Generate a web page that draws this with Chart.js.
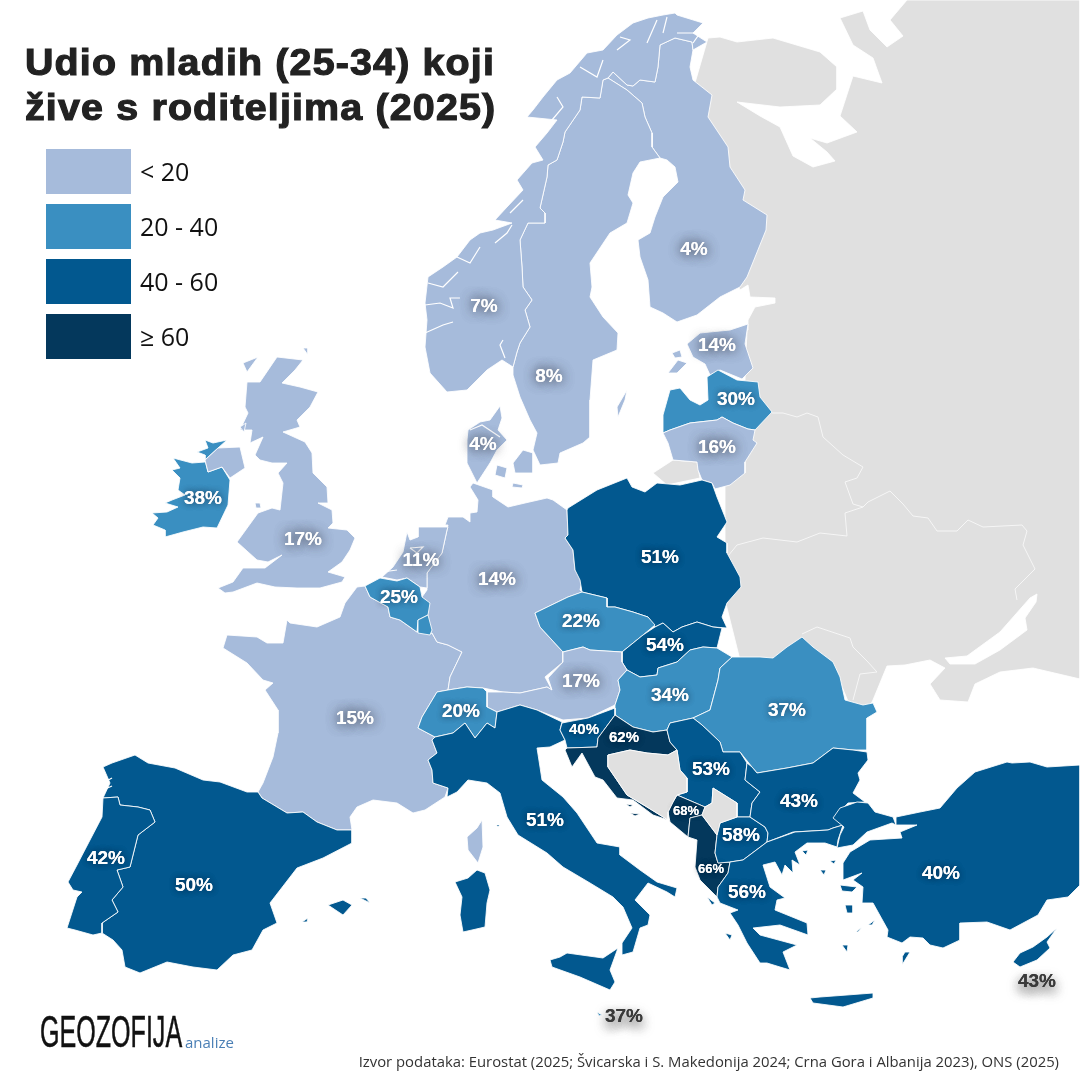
<!DOCTYPE html>
<html lang="hr">
<head>
<meta charset="utf-8">
<title>Udio mladih</title>
<script src="https://cdn.jsdelivr.net/npm/chart.js@4"></script>
<style>
  html, body { margin: 0; padding: 0; background: #fff; }
  #wrap { position: relative; width: 1080px; height: 1081px; overflow: hidden; font-family: "Liberation Sans", sans-serif; }
  canvas { position: absolute; left: 0; top: 0; }
  #title { position: absolute; left: 25px; top: 40px; font-weight: bold; font-size: 36px; line-height: 45px; color: #222; letter-spacing: 1.05px; -webkit-text-stroke: 1.1px #222; white-space: nowrap; transform-origin: left top; transform: scaleX(1.095); }
  .sw { position: absolute; left: 46px; width: 85px; height: 45px; }
  .lg { position: absolute; left: 140px; font: 25px/30px "Open Sans", sans-serif; color: #111; white-space: pre; }
  #logo { position: absolute; left: 40px; top: 1009px; font: 44px/46px "Liberation Sans", sans-serif; color: #111; transform-origin: left top; transform: scaleX(0.57); -webkit-text-stroke: 0.5px #111; white-space: nowrap; }
  #sub { position: absolute; left: 185px; top: 1033px; font: 15px/18px "Open Sans", sans-serif; color: #4a7fb5; }
  #src { position: absolute; right: 21px; top: 1051px; font: 14.85px/20px "Open Sans", sans-serif; color: #333; white-space: nowrap; }
</style>
</head>
<body>
<div id="wrap">
  <canvas id="map" width="1080" height="1081"></canvas>
  <div id="title">Udio mladih (25-34) koji<br>žive s roditeljima (2025)</div>
  <div id="legend"></div>
  <div id="logo">GEOZOFIJA</div>
  <div id="sub">analize</div>
  <div id="src">Izvor podataka: Eurostat (2025; Švicarska i S. Makedonija 2024; Crna Gora i Albanija 2023), ONS (2025)</div>
</div>
<script>
// vrijednosti s karte
const regions = ['Finska','Norveška','Švedska','Estonija','Latvija','Litva','Danska','Irska','UK','Nizozemska','Belgija','Njemačka','Poljska','Češka','Slovačka','Austrija','Mađarska','Rumunjska','Švicarska','Francuska','Slovenija','Hrvatska','Srbija','Bugarska','Italija','Crna Gora','S. Makedonija','Albanija','Grčka','Turska','Portugal','Španjolska','Malta','Cipar'];
const shares = [4,7,8,14,30,16,4,38,17,11,25,14,51,22,54,17,34,37,20,15,40,62,53,43,51,68,58,66,56,40,42,50,37,43];
const labelX = [694,484,549,717,736,717,483,203,303,421,399,497,660,581,665,581,670,787,461,355,584,624,711,799,545,686,741,711,747,941,106,194,624,1037];
const labelY = [250,307,377,346,400,448,445,499,540,561,598,580,558,622,646,682,696,711,712,719,730,738,770,802,821,811,836,869,893,874,859,886,1017,982];
const midLabels = ['Slovenija','Hrvatska'];
const smallLabels = ['Crna Gora','Albanija'];
const outsideLabels = ['Malta','Cipar'];

const classLabels = ['< 20','20 - 40','40 - 60','≥ 60'];
const classLimits = [20,40,60,Infinity];
const classColors = ['#a6bbdb','#3a8fc1','#02588f','#04385c'];
const noData = '#e0e0e0';

// obrisi, u koordinatama karte
const russia = [[708,38],[720,37],[737,42],[773,38],[820,52],[837,67],[837,89],[820,105],[780,107],[737,102],[760,116],[780,127],[793,156],[813,167],[835,161],[827,152],[810,138],[827,143],[857,132],[840,116],[853,76],[882,83],[873,58],[853,45],[840,18],[863,11],[870,30],[887,47],[903,36],[890,20],[907,0],[1080,0],[1080,679],[1033,668],[1000,672],[975,684],[968,702],[940,700],[930,684],[945,668],[930,660],[905,665],[887,666],[873,700],[870,706],[850,706],[835,670],[740,660],[725,600],[725,440],[745,380],[747,330],[748,320],[755,307],[775,303],[775,298],[750,297],[748,285],[740,290],[700,200],[690,100]];
const azov = [[945,658],[967,656],[1000,632],[1030,598],[1037,594],[1036,602],[1025,618],[1027,630],[1000,650],[975,664],[950,664]];
const kaliningrad = [[653,473],[673,460],[697,462],[700,478],[667,485]];
const finland = [[675,38],[660,45],[658,67],[655,82],[640,80],[633,86],[627,85],[613,72],[608,78],[627,90],[642,103],[645,117],[652,133],[652,147],[660,158],[667,160],[675,167],[678,182],[663,197],[655,217],[650,233],[638,240],[640,257],[648,280],[650,307],[663,313],[677,322],[697,315],[720,297],[740,287],[747,277],[766,230],[767,215],[743,200],[745,190],[730,167],[728,147],[708,117],[712,95],[693,80],[690,67],[693,50],[692,42]];
const norway = [[513,367],[502,360],[487,370],[467,390],[447,392],[430,373],[425,347],[427,320],[425,303],[428,277],[443,267],[457,257],[470,240],[480,233],[493,230],[512,223],[495,220],[507,207],[523,190],[517,180],[532,163],[543,160],[535,147],[547,133],[557,120],[527,117],[533,110],[543,97],[557,80],[570,73],[587,53],[603,50],[617,35],[633,23],[648,18],[663,15],[675,13],[677,15],[703,23],[693,33],[707,42],[693,50],[692,42],[675,38],[660,45],[658,67],[655,82],[640,80],[633,86],[627,85],[613,72],[608,78],[603,80],[600,98],[582,97],[580,110],[565,132],[563,142],[557,160],[548,165],[547,177],[540,208],[545,213],[545,223],[528,223],[520,240],[522,267],[523,287],[532,300],[525,310],[530,327],[520,343],[517,352]];
const sweden = [[608,78],[627,90],[642,103],[645,117],[652,133],[652,147],[660,158],[640,162],[633,173],[628,195],[633,203],[627,223],[610,233],[600,248],[590,263],[592,287],[590,297],[603,317],[618,333],[617,350],[593,360],[590,400],[590,437],[583,443],[560,453],[558,463],[540,465],[533,450],[537,433],[530,420],[520,397],[513,375],[513,367],[517,352],[520,343],[530,327],[525,310],[532,300],[523,287],[522,267],[520,240],[528,223],[545,223],[545,213],[540,208],[547,177],[548,165],[557,160],[563,142],[565,132],[580,110],[582,97],[600,98],[603,80]];
const gotland = [[617,407],[627,390],[625,400],[618,417]];
const jutland = [[468,430],[480,422],[490,420],[500,406],[502,418],[498,430],[507,440],[497,450],[490,463],[477,483],[467,463],[467,440]];
const zealand = [[513,463],[523,450],[533,453],[533,473],[515,473]];
const funen = [[497,465],[507,468],[505,478],[495,475]];
const lolland = [[513,483],[523,485],[522,488],[512,487]];
const estonia = [[748,324],[745,344],[753,368],[742,379],[720,370],[710,375],[705,364],[693,357],[687,344],[700,333],[730,330]];
const saaremaa = [[668,373],[678,360],[687,363],[677,373]];
const hiiumaa = [[672,353],[680,350],[682,357],[675,358]];
const latvia = [[663,433],[663,415],[670,390],[680,388],[690,400],[700,405],[708,400],[707,377],[718,370],[737,380],[758,382],[760,397],[772,412],[755,430],[748,429],[733,423],[722,417],[717,420],[690,423],[670,430]];
const lithuania = [[663,433],[670,430],[690,423],[717,420],[722,417],[733,423],[748,429],[755,430],[753,440],[757,443],[745,462],[745,473],[730,485],[715,489],[712,483],[702,480],[698,470],[697,462],[673,460],[668,443]];
const ireland = [[227,440],[213,443],[205,440],[208,448],[197,452],[205,455],[205,462],[192,463],[173,458],[180,468],[172,470],[180,478],[178,490],[185,495],[172,500],[165,503],[178,507],[167,512],[152,513],[158,518],[153,525],[165,530],[165,537],[183,532],[203,527],[217,528],[228,505],[230,480],[222,467],[208,472],[205,460],[218,448]];
const nIreland = [[205,460],[218,448],[240,447],[245,468],[230,478],[222,467],[208,472]];
const britain = [[277,357],[303,360],[295,370],[282,383],[300,387],[318,392],[310,407],[297,420],[300,427],[283,432],[305,442],[312,453],[313,473],[327,487],[328,503],[318,503],[332,510],[333,523],[328,528],[347,530],[355,538],[350,550],[342,562],[328,572],[345,577],[342,582],[320,588],[297,588],[275,587],[257,583],[233,592],[225,593],[218,588],[233,582],[243,568],[265,568],[282,555],[268,562],[257,560],[237,542],[258,513],[272,508],[280,510],[283,483],[278,473],[287,463],[272,463],[260,460],[255,455],[263,437],[250,443],[252,430],[240,430],[248,413],[245,407],[247,382],[260,382]];
const lewis = [[243,363],[258,357],[247,372]];
const orkney = [[303,348],[308,348],[308,355]];
const anglesey = [[255,503],[260,503],[261,508],[256,508]];
const islay = [[240,427],[246,423],[244,432]];
const netherlands = [[448,527],[418,527],[418,537],[410,540],[407,532],[403,552],[393,567],[382,577],[397,580],[407,578],[420,587],[427,588],[427,573],[442,553],[447,530]];
const belgium = [[365,586],[380,578],[397,581],[407,578],[420,587],[422,597],[430,603],[428,615],[418,620],[417,632],[400,620],[390,617],[388,607],[370,597]];
const luxembourg = [[418,620],[428,615],[432,630],[430,635],[418,633]];
const germany = [[473,483],[493,490],[493,497],[508,507],[525,503],[547,498],[553,500],[567,510],[568,535],[565,538],[573,550],[575,570],[582,580],[580,590],[583,592],[568,597],[535,613],[540,627],[563,652],[563,662],[545,677],[552,690],[547,687],[520,693],[503,692],[483,688],[467,687],[448,690],[450,677],[462,652],[448,645],[437,642],[432,633],[430,633],[418,620],[422,597],[427,590],[427,573],[442,553],[447,530],[448,525],[445,525],[448,517],[463,517],[470,522],[470,513],[477,512],[478,500],[470,487]];
const poland = [[567,510],[568,508],[597,490],[627,478],[632,487],[645,492],[657,483],[680,485],[702,480],[712,483],[717,497],[727,522],[717,537],[727,543],[727,553],[740,577],[741,587],[727,603],[722,617],[727,628],[713,627],[697,622],[682,627],[673,632],[663,623],[655,627],[648,617],[633,612],[615,607],[607,607],[607,598],[582,592],[580,580],[575,570],[573,550],[565,538],[568,535]];
const czechia = [[535,613],[568,597],[582,592],[607,598],[607,607],[615,607],[633,612],[648,617],[655,625],[643,635],[622,652],[590,650],[583,647],[563,652],[540,627]];
const slovakia = [[655,627],[663,623],[673,632],[682,627],[697,622],[713,627],[722,628],[717,648],[703,647],[690,650],[677,662],[658,668],[657,675],[640,677],[627,670],[622,662],[622,652],[643,635]];
const austria = [[487,692],[503,692],[520,693],[547,687],[552,690],[548,678],[563,662],[563,652],[583,647],[590,650],[622,652],[622,662],[627,670],[618,680],[620,690],[615,705],[588,718],[563,720],[537,710],[520,705],[497,712],[487,707]];
const hungary = [[627,670],[640,677],[657,675],[658,668],[677,662],[690,650],[703,647],[717,648],[732,657],[720,668],[718,680],[710,710],[693,718],[670,723],[667,730],[653,732],[633,727],[615,715],[615,705],[620,690],[618,680]];
const romania = [[732,657],[760,657],[773,658],[787,647],[802,637],[813,647],[833,662],[840,677],[845,700],[863,705],[873,703],[877,712],[867,718],[867,750],[853,750],[833,748],[813,763],[787,768],[757,773],[752,767],[740,752],[723,752],[720,742],[702,725],[693,718],[710,710],[718,680],[720,668]];
const switzerland = [[418,728],[422,717],[437,692],[448,690],[467,687],[483,688],[487,692],[487,707],[497,712],[495,728],[487,723],[475,738],[465,723],[453,733],[435,737]];
const france = [[357,587],[345,603],[340,617],[317,627],[290,623],[282,615],[287,620],[283,643],[267,643],[257,637],[227,635],[223,648],[247,663],[263,680],[273,683],[265,690],[278,710],[278,733],[273,757],[263,783],[258,792],[262,798],[287,813],[303,812],[317,822],[337,830],[352,830],[350,817],[357,807],[373,800],[397,803],[413,813],[425,810],[445,797],[448,788],[433,783],[432,770],[428,760],[437,753],[432,740],[435,737],[418,728],[422,717],[437,692],[448,690],[450,677],[462,652],[448,645],[437,642],[432,633],[417,632],[400,620],[390,617],[388,607],[370,597],[365,586]];
const corsica = [[482,820],[483,847],[478,863],[468,850],[467,837],[477,828]];
const slovenia = [[562,723],[588,718],[615,708],[615,715],[598,738],[597,747],[567,748],[565,740],[560,730]];
const croatia = [[615,715],[633,727],[653,732],[667,730],[670,742],[677,750],[668,755],[647,753],[630,750],[608,755],[608,767],[627,795],[647,807],[668,820],[653,815],[633,800],[617,798],[603,780],[595,777],[582,753],[572,767],[565,750],[567,748],[597,747],[598,738]];
const hvar = [[626,804],[633,805],[630,807]];
const korcula = [[630,813],[640,814],[635,816]];
const bosnia = [[608,755],[630,750],[647,753],[668,755],[677,750],[680,770],[687,778],[687,792],[677,795],[673,802],[668,812],[668,820],[647,807],[627,795],[608,767]];
const serbia = [[667,730],[670,723],[693,718],[702,725],[720,742],[723,752],[740,752],[747,763],[745,780],[760,792],[752,803],[750,817],[737,817],[737,803],[713,788],[712,803],[705,807],[677,795],[687,792],[687,778],[680,770],[677,750],[670,742]];
const kosovo = [[713,788],[737,803],[737,817],[720,823],[717,835],[702,815],[705,807],[712,803]];
const montenegro = [[677,795],[705,807],[702,815],[690,818],[688,837],[670,822],[668,812],[673,802]];
const albania = [[690,818],[702,815],[717,835],[715,853],[718,863],[730,862],[728,873],[718,887],[717,897],[700,880],[695,867],[697,840],[688,837]];
const macedonia = [[717,835],[720,823],[737,817],[750,817],[765,827],[768,833],[767,842],[743,860],[730,862],[718,863],[715,853]];
const bulgaria = [[867,752],[868,760],[858,773],[860,780],[853,793],[865,802],[848,803],[835,817],[843,825],[833,828],[828,830],[793,832],[767,842],[768,833],[765,827],[750,817],[752,803],[760,792],[745,780],[747,763],[752,767],[757,773],[787,768],[813,763],[833,748],[853,750]];
const greece = [[717,897],[718,887],[728,873],[730,862],[743,860],[767,842],[795,832],[828,830],[833,828],[843,825],[838,840],[837,847],[825,843],[807,843],[795,852],[800,865],[792,860],[793,873],[785,865],[782,875],[775,862],[763,865],[770,887],[785,898],[777,900],[775,910],[807,923],[808,935],[780,925],[753,928],[760,935],[797,945],[783,952],[790,970],[780,967],[767,963],[760,963],[747,943],[738,925],[730,913],[738,910],[720,903]];
const crete = [[810,998],[813,1003],[843,1007],[873,998],[873,993],[847,995],[820,997]];
const corfu = [[707,897],[715,903],[712,905]];
const lesbos = [[840,885],[857,887],[852,892],[842,891]];
const chios = [[845,905],[853,905],[853,913],[847,913]];
const rhodes = [[902,965],[910,952],[905,952],[902,957]];
const limnos = [[820,870],[826,870],[824,875]];
const thasos = [[802,851],[808,850],[806,855]];
const samothrace = [[830,861],[836,860],[834,864]];
const naxos = [[842,945],[848,945],[847,952]];
const kefalonia = [[725,933],[732,935],[730,940]];
const ikaria = [[856,932],[862,927],[858,932]];
const kos = [[868,925],[875,920],[872,925]];
const turkeyEu = [[868,803],[875,812],[893,817],[896,825],[892,823],[867,832],[853,845],[837,848],[840,835],[844,827],[833,818],[840,808],[857,802]];
const turkey = [[896,817],[920,812],[940,808],[957,788],[975,772],[1007,762],[1012,763],[1030,762],[1047,767],[1080,765],[1080,885],[1068,897],[1047,900],[1038,915],[1010,930],[987,922],[960,923],[960,940],[943,948],[930,945],[923,938],[910,937],[902,943],[887,937],[888,930],[873,903],[862,903],[863,887],[853,880],[862,873],[843,880],[843,863],[850,852],[870,840],[902,838],[900,832],[917,825],[900,825],[896,825]];
const cyprus = [[1057,928],[1047,942],[1050,948],[1037,960],[1020,967],[1013,962],[1020,953],[1033,947],[1047,937]];
const italy = [[435,737],[453,733],[465,723],[475,738],[487,723],[495,728],[497,712],[520,705],[537,710],[562,722],[560,730],[565,740],[550,747],[537,748],[540,767],[542,780],[563,797],[577,813],[597,843],[620,847],[620,855],[640,870],[657,882],[677,888],[675,897],[667,892],[648,883],[635,900],[650,915],[648,925],[640,928],[633,952],[622,955],[622,943],[632,928],[623,907],[613,897],[590,883],[563,867],[547,853],[518,835],[507,817],[500,793],[487,783],[468,780],[457,792],[447,797],[448,788],[433,783],[432,770],[428,760],[437,753],[432,740]];
const sicily = [[550,960],[552,967],[580,977],[610,990],[615,982],[610,970],[618,948],[603,958],[567,953],[560,957]];
const sardinia = [[477,870],[485,873],[490,890],[487,903],[485,927],[472,930],[463,932],[460,915],[462,897],[455,882],[468,878]];
const elba = [[496,825],[500,825],[498,827]];
const malta = [[597,1012],[602,1015],[599,1016]];
const spain = [[103,767],[112,763],[135,755],[148,763],[175,768],[203,780],[220,782],[247,792],[258,792],[262,798],[287,813],[303,812],[317,822],[337,830],[352,830],[352,843],[323,858],[297,868],[270,903],[277,923],[263,930],[252,950],[233,955],[217,970],[193,967],[167,962],[140,973],[125,967],[122,950],[113,940],[102,933],[102,923],[118,912],[112,900],[123,887],[117,870],[130,867],[138,835],[155,822],[150,810],[138,807],[120,805],[118,797],[103,798],[110,783]];
const portugal = [[103,798],[118,797],[120,805],[138,807],[150,810],[155,822],[138,835],[130,867],[117,870],[123,887],[112,900],[118,912],[102,923],[102,933],[93,935],[75,930],[67,928],[77,897],[82,892],[73,890],[68,882],[77,865],[90,840],[102,817]];
const mallorca = [[328,905],[343,900],[352,905],[343,915]];
const menorca = [[360,898],[370,903],[366,898]];
const ibiza = [[302,922],[308,918],[307,922]];

// granice unutar sivog dijela
const belarusN = [[772,413],[783,413],[797,417],[807,413],[818,417],[823,437],[843,455],[863,467],[857,478],[845,482],[853,504],[863,507]];
const ukraineE = [[863,507],[868,502],[890,491],[903,504],[913,516],[928,518],[937,531],[957,531],[968,520],[983,527],[1022,525],[1027,531],[1023,545],[1035,569],[1015,589],[1017,600]];
const belarusS = [[863,507],[845,513],[847,536],[820,533],[797,542],[763,538],[737,545],[728,556]];
const moldova = [[802,634],[817,627],[850,638],[853,647],[867,661],[877,672],[860,674],[853,700]];

// fjordovi i uvale
const cuts = [
  [[425,305],[440,303],[453,308],[450,298],[460,298]],
  [[428,283],[443,287],[458,272]],
  [[425,333],[443,325],[453,322]],
  [[495,243],[507,233],[512,225]],
  [[457,257],[470,263],[480,247]],
  [[523,200],[510,213]],
  [[552,120],[563,107],[557,97]],
  [[580,67],[597,77],[603,60]],
  [[617,50],[630,40],[620,37]],
  [[647,43],[657,20]],
  [[663,33],[667,17]],
  [[677,33],[700,33],[693,43]],
  [[505,358],[500,345],[503,340]],
  [[599,410],[593,437]],
  [[470,430],[482,425],[500,437]],
  [[410,548],[423,547],[417,553],[410,548]],
  [[382,572],[397,570]],
  [[103,783],[112,778]],
  [[103,790],[112,786]]
];

const shapeParts = [
  ['Finska',finland],['Švedska',sweden],['Švedska',gotland],['Norveška',norway],
  ['Danska',jutland],['Danska',zealand],['Danska',funen],['Danska',lolland],
  ['Estonija',estonia],['Estonija',saaremaa],['Estonija',hiiumaa],['Latvija',latvia],['Litva',lithuania],
  ['Irska',ireland],['UK',nIreland],['UK',britain],['UK',lewis],['UK',orkney],['UK',anglesey],['UK',islay],
  ['Francuska',france],['Francuska',corsica],['Njemačka',germany],['Nizozemska',netherlands],['Belgija',belgium],['Belgija',luxembourg],
  ['Poljska',poland],['Češka',czechia],['Slovačka',slovakia],['Austrija',austria],['Mađarska',hungary],['Rumunjska',romania],
  ['Švicarska',switzerland],['Italija',italy],['Italija',sicily],['Italija',sardinia],['Italija',elba],['Slovenija',slovenia],['Hrvatska',croatia],['Hrvatska',hvar],['Hrvatska',korcula],
  ['Srbija',serbia],['Crna Gora',montenegro],['Albanija',albania],['S. Makedonija',macedonia],['Bugarska',bulgaria],
  ['Grčka',greece],['Grčka',crete],['Grčka',corfu],['Grčka',lesbos],['Grčka',chios],['Grčka',rhodes],['Grčka',limnos],['Grčka',thasos],['Grčka',samothrace],['Grčka',naxos],['Grčka',kefalonia],['Grčka',ikaria],['Grčka',kos],
  ['Turska',turkeyEu],['Turska',turkey],['Cipar',cyprus],['Malta',malta],
  ['Španjolska',spain],['Španjolska',mallorca],['Španjolska',menorca],['Španjolska',ibiza],['Portugal',portugal]
];

function classColor(v) {
  return classColors[classLimits.findIndex(l => v < l)];
}

function area(points, color) {
  return { data: points.concat([points[0]]), backgroundColor: color, borderColor: 'rgba(255,255,255,0.85)', borderWidth: 1, fill: 'shape' };
}
function stroke(points, width, color) {
  return { data: points, borderColor: color, borderWidth: width, fill: false };
}

const layers = [
  area(russia, noData), area(kaliningrad, noData), area(azov, '#ffffff'),
  stroke(belarusN, 1, '#f6f6f6'), stroke(ukraineE, 1, '#f6f6f6'), stroke(belarusS, 1, '#f6f6f6'), stroke(moldova, 1, '#f6f6f6')
];
shapeParts.forEach(([name, pts]) => {
  layers.push(area(pts, classColor(shares[regions.indexOf(name)])));
});
layers.push(area(bosnia, noData), area(kosovo, noData));
cuts.forEach(c => layers.push(stroke(c, 1.2, '#ffffff')));

// Chart.js crta prvi skup zadnji, pa se slojevi okreću
const datasets = layers.reverse();

// oznake postotaka na kraju, preko skala
const percentLabels = {
  id: 'percentLabels',
  afterDatasetsDraw(chart) {
    const { ctx, scales } = chart;
    ctx.save();
    ctx.textAlign = 'center';
    ctx.textBaseline = 'middle';
    regions.forEach((name, i) => {
      const x = scales.x.getPixelForValue(labelX[i]);
      const y = scales.y.getPixelForValue(labelY[i]);
      const out = outsideLabels.includes(name);
      const light = shares[i] < 20;
      const size = smallLabels.includes(name) ? 13 : midLabels.includes(name) ? 15 : 19;
      ctx.font = 'bold ' + size + 'px "Liberation Sans", sans-serif';
      ctx.shadowColor = out ? 'rgba(60,60,60,0.55)' : light ? 'rgba(60,65,80,0.7)' : 'rgba(0,20,40,0.35)';
      ctx.shadowBlur = light || out ? 12 : 6;
      ctx.shadowOffsetY = out ? 5 : 0;
      ctx.fillStyle = out ? '#3a3a3a' : '#ffffff';
      ctx.fillText(shares[i] + '%', x, y);
      ctx.fillText(shares[i] + '%', x, y);
    });
    ctx.restore();
  }
};

new Chart(document.getElementById('map'), {
  type: 'line',
  data: { datasets },
  options: {
    responsive: false,
    animation: false,
    events: [],
    layout: { padding: 0 },
    elements: { point: { radius: 0 }, line: { tension: 0 } },
    plugins: { legend: { display: false }, tooltip: { enabled: false } },
    scales: {
      x: { type: 'linear', min: 0, max: 1080, display: false },
      y: { type: 'linear', min: 0, max: 1081, reverse: true, display: false }
    }
  },
  plugins: [percentLabels]
});

// legenda
const legendEl = document.getElementById('legend');
classLabels.forEach((txt, i) => {
  const top = 149 + i * 55;
  legendEl.insertAdjacentHTML('beforeend',
    '<div class="sw" style="top:' + top + 'px;background:' + classColors[i] + '"></div>' +
    '<div class="lg" style="top:' + (top + 7) + 'px">' + txt.replace('<', '&lt;') + '</div>');
});
</script>
</body>
</html>
